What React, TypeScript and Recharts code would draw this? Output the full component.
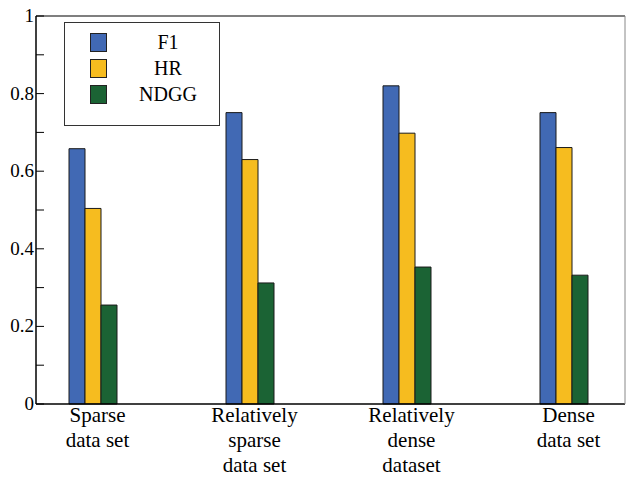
import React from "react";
import { BarChart, Bar, XAxis, YAxis, CartesianGrid, ReferenceLine } from "recharts";

const categories = ["Sparse\ndata set", "Relatively\nsparse\ndata set", "Relatively\ndense\ndataset", "Dense\ndata set"];
const f1 = [0.658, 0.751, 0.82, 0.751];
const hr = [0.504, 0.63, 0.698, 0.661];
const ndgg = [0.255, 0.312, 0.353, 0.332];
const yTicks = [0, 0.1, 0.2, 0.3, 0.4, 0.5, 0.6, 0.7, 0.8, 0.9, 1];
const gridValues = [0.2, 0.4, 0.6, 0.8];

const SERIES = [
  { key: "F1", color: "#4169B4" },
  { key: "HR", color: "#F6BC1F" },
  { key: "NDGG", color: "#1B6334" },
];

const data = categories.map((name, i) => ({ name, F1: f1[i], HR: hr[i], NDGG: ndgg[i] }));

const FONT = '"Liberation Serif", "DejaVu Serif", serif';

const LeftTick = (props: any) => {
  const { x, y, payload } = props;
  const v = payload.value as number;
  const major = Math.round(v * 10) % 2 === 0;
  return (
    <g>
      <line x1={x} y1={y} x2={x + 8} y2={y} stroke="#000" strokeWidth={1} />
      {major && (
        <text x={x - 2} y={y} dy={6} textAnchor="end" style={{ fontFamily: FONT, fontSize: 19 }} fill="#000">
          {v === 0 || v === 1 ? String(v) : v.toFixed(1)}
        </text>
      )}
    </g>
  );
};

const RightTick = (props: any) => {
  const { x, y } = props;
  return <line x1={x} y1={y} x2={x - 8} y2={y} stroke="#000" strokeWidth={1} />;
};

const XTick = (props: any) => {
  const { x, y, payload } = props;
  const lines = String(payload.value).split("\n");
  return (
    <text x={x + 5} y={y} textAnchor="middle" style={{ fontFamily: FONT, fontSize: 21 }} fill="#000">
      {lines.map((l, i) => (
        <tspan key={i} x={x + 5} dy={i === 0 ? 18 : 25}>
          {l}
        </tspan>
      ))}
    </text>
  );
};

const LegendBox = () => (
  <div
    style={{
      position: "absolute",
      left: 64,
      top: 22,
      width: 156,
      height: 104,
      boxSizing: "border-box",
      border: "1px solid #333",
      background: "#fff",
      fontFamily: FONT,
    }}
  >
    {SERIES.map((s, i) => (
      <div key={s.key} style={{ position: "absolute", left: 0, top: 10 + i * 26, width: 154, height: 19 }}>
        <div
          style={{
            position: "absolute",
            left: 25,
            top: 0,
            width: 17,
            height: 19,
            boxSizing: "border-box",
            background: s.color,
            border: "1px solid #222",
          }}
        />
        <div
          style={{
            position: "absolute",
            left: 63,
            width: 80,
            top: -2,
            textAlign: "center",
            fontSize: 20,
            lineHeight: "22px",
            color: "#000",
          }}
        >
          {s.key}
        </div>
      </div>
    ))}
  </div>
);

export default function App() {
  return (
    <div style={{ position: "absolute", left: 0, top: 0, width: 626, height: 478 }}>
      <BarChart
        width={626}
        height={478}
        data={data}
        margin={{ top: 16, right: 0, bottom: 0, left: 0 }}
        barGap={0}
        barSize={16}
      >
        <CartesianGrid
          horizontal={true}
          vertical={false}
          horizontalValues={gridValues}
          stroke="#bbb"
          strokeDasharray="2 2"
        />
        <XAxis
          dataKey="name"
          height={74}
          padding={{ left: -22, right: -17 }}
          tickLine={false}
          tickSize={0}
          tickMargin={0}
          axisLine={{ stroke: "#000", strokeWidth: 1.5 }}
          tick={<XTick />}
          interval={0}
        />
        <YAxis
          yAxisId="left"
          width={36}
          domain={[0, 1]}
          ticks={yTicks}
          interval={0}
          tickLine={false}
          tickSize={0}
          tickMargin={0}
          axisLine={{ stroke: "#000", strokeWidth: 1.5 }}
          tick={<LeftTick />}
        />
        <YAxis
          yAxisId="right"
          orientation="right"
          width={1}
          domain={[0, 1]}
          ticks={yTicks}
          interval={0}
          tickLine={false}
          tickSize={0}
          tickMargin={0}
          axisLine={{ stroke: "#888" }}
          tick={<RightTick />}
        />
        <ReferenceLine yAxisId="left" y={1} stroke="#555" strokeWidth={1.5} />
        {SERIES.map((s) => (
          <Bar
            key={s.key}
            yAxisId="left"
            dataKey={s.key}
            fill={s.color}
            stroke="#1a1a1a"
            strokeWidth={1}
            isAnimationActive={false}
          />
        ))}
      </BarChart>
      <LegendBox />
    </div>
  );
}
